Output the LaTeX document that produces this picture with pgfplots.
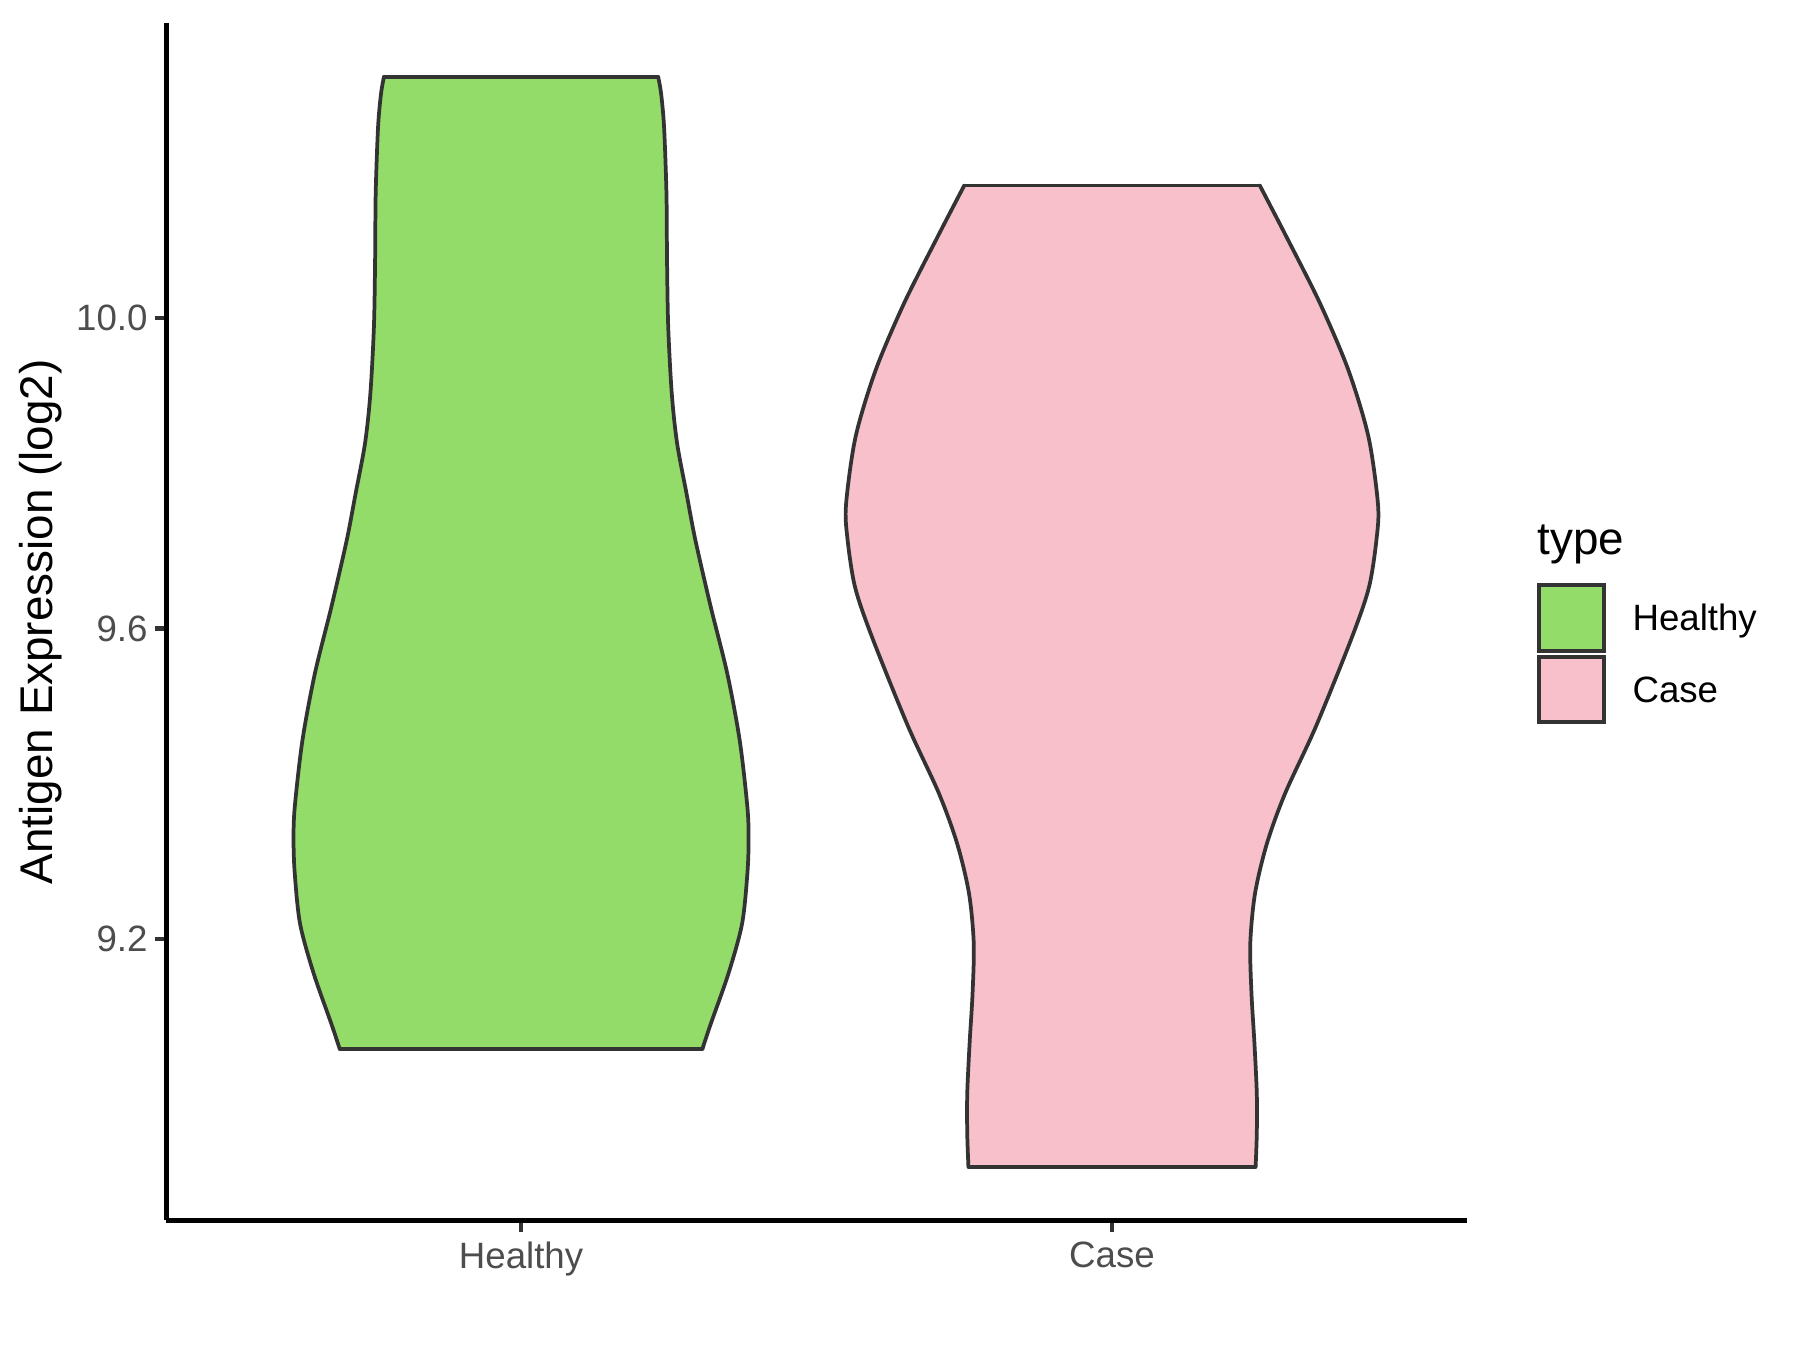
\documentclass[border=0pt]{standalone}
\usepackage{fontspec}
\setmainfont{Liberation Sans}
\usepackage{pgfplots}
\pgfplotsset{compat=1.18}
\definecolor{healthyfill}{HTML}{94DC6A}
\definecolor{casefill}{HTML}{F7C0CB}
\definecolor{outline}{HTML}{333333}
\definecolor{ticktext}{HTML}{4D4D4D}

\begin{document}
\begin{tikzpicture}
\begin{axis}[
  at={(0,0)}, anchor=south west,
  scale only axis,
  width=313.2pt, height=288.4pt,
  xmin=0.4, xmax=2.6, ymin=8.838, ymax=10.380,
  axis x line*=bottom, axis y line*=left,
  axis line style={-, line width=1.07pt, black},
  xtick={1,2}, xticklabels={Healthy,Case},
  ytick={9.2,9.6,10.0}, yticklabels={9.2,9.6,10.0},
  tick align=outside, major tick length=2.75pt,
  tick style={line width=1.07pt, color=outline},
  ticklabel style={font=\fontsize{8.83}{10}\selectfont, text=ticktext},
  xticklabel style={yshift=1.1pt},
  yticklabel style={xshift=1.7pt},
  violin/.style={draw=outline, line width=0.9pt, smooth, tension=0.5, line cap=round},
  edge/.style={draw=outline, line width=0.9pt, sharp plot, line cap=round},
]
% Healthy violin: filled outline, then smooth sides and flat ends
\addplot[fill=healthyfill, draw=none] coordinates {
 (1.232,10.311)(1.237,10.289)(1.242,10.246)(1.246,10.161)(1.247,10.075)
 (1.249,9.989)(1.255,9.903)(1.264,9.839)(1.280,9.774)(1.295,9.714)
 (1.321,9.628)(1.349,9.542)(1.370,9.456)(1.383,9.370)(1.385,9.328)
 (1.383,9.285)(1.374,9.220)(1.351,9.156)(1.321,9.091)(1.307,9.059)
 (0.693,9.059)(0.679,9.091)(0.649,9.156)(0.626,9.220)(0.617,9.285)
 (0.615,9.328)(0.617,9.370)(0.630,9.456)(0.651,9.542)(0.679,9.628)
 (0.705,9.714)(0.720,9.774)(0.736,9.839)(0.745,9.903)(0.751,9.989)
 (0.753,10.075)(0.754,10.161)(0.758,10.246)(0.763,10.289)(0.768,10.311)
} -- cycle;
\addplot[violin] coordinates {
 (1.232,10.311)(1.237,10.289)(1.242,10.246)(1.246,10.161)(1.247,10.075)
 (1.249,9.989)(1.255,9.903)(1.264,9.839)(1.280,9.774)(1.295,9.714)
 (1.321,9.628)(1.349,9.542)(1.370,9.456)(1.383,9.370)(1.385,9.328)
 (1.383,9.285)(1.374,9.220)(1.351,9.156)(1.321,9.091)(1.307,9.059)
};
\addplot[violin] coordinates {
 (0.693,9.059)(0.679,9.091)(0.649,9.156)(0.626,9.220)(0.617,9.285)
 (0.615,9.328)(0.617,9.370)(0.630,9.456)(0.651,9.542)(0.679,9.628)
 (0.705,9.714)(0.720,9.774)(0.736,9.839)(0.745,9.903)(0.751,9.989)
 (0.753,10.075)(0.754,10.161)(0.758,10.246)(0.763,10.289)(0.768,10.311)
};
\addplot[edge] coordinates {(0.768,10.311)(1.232,10.311)};
\addplot[edge] coordinates {(0.693,9.059)(1.307,9.059)};
% Case violin
\addplot[fill=casefill, draw=none] coordinates {
 (2.250,10.171)(2.295,10.105)(2.352,10.019)(2.400,9.933)(2.434,9.847)
 (2.450,9.761)(2.448,9.718)(2.435,9.654)(2.406,9.589)
 (2.345,9.474)(2.293,9.388)(2.262,9.323)(2.242,9.259)(2.234,9.195)
 (2.236,9.130)(2.241,9.066)(2.245,9.001)(2.245,8.950)(2.243,8.907)
 (1.757,8.907)(1.755,8.950)(1.755,9.001)(1.759,9.066)(1.764,9.130)
 (1.766,9.195)(1.758,9.259)(1.738,9.323)(1.707,9.388)(1.655,9.474)
 (1.594,9.589)(1.565,9.654)(1.552,9.718)(1.550,9.761)
 (1.566,9.847)(1.600,9.933)(1.648,10.019)(1.705,10.105)(1.750,10.171)
} -- cycle;
\addplot[violin] coordinates {
 (2.250,10.171)(2.295,10.105)(2.352,10.019)(2.400,9.933)(2.434,9.847)
 (2.450,9.761)(2.448,9.718)(2.435,9.654)(2.406,9.589)
 (2.345,9.474)(2.293,9.388)(2.262,9.323)(2.242,9.259)(2.234,9.195)
 (2.236,9.130)(2.241,9.066)(2.245,9.001)(2.245,8.950)(2.243,8.907)
};
\addplot[violin] coordinates {
 (1.757,8.907)(1.755,8.950)(1.755,9.001)(1.759,9.066)(1.764,9.130)
 (1.766,9.195)(1.758,9.259)(1.738,9.323)(1.707,9.388)(1.655,9.474)
 (1.594,9.589)(1.565,9.654)(1.552,9.718)(1.550,9.761)
 (1.566,9.847)(1.600,9.933)(1.648,10.019)(1.705,10.105)(1.750,10.171)
};
\addplot[edge] coordinates {(1.750,10.171)(2.250,10.171)};
\addplot[edge] coordinates {(1.757,8.907)(2.243,8.907)};
\end{axis}
% pixel frame of the 1800x1350 reference, y pointing down
\begin{scope}[x=0.2409pt, y=-0.2409pt, shift={(-40.11pt,293.97pt)}]
\path[use as bounding box] (0,0) rectangle (1800,1350);
\node[rotate=90, font=\fontsize{11.04}{13}\selectfont] at (41,621.7) {Antigen Expression (log2)};
\node[anchor=base west, inner sep=0pt, font=\fontsize{11.04}{13}\selectfont] at (1536.7,555) {type};
\draw[fill=healthyfill, draw=outline, line width=0.95pt] (1538.7,584.7) rectangle (1604,650.7);
\draw[fill=casefill, draw=outline, line width=0.95pt] (1538.7,657) rectangle (1604,722);
\node[anchor=base west, inner sep=0pt, font=\fontsize{8.83}{10}\selectfont] at (1631.7,630.7) {Healthy};
\node[anchor=base west, inner sep=0pt, font=\fontsize{8.83}{10}\selectfont] at (1631.7,702.3) {Case};
\end{scope}
\end{tikzpicture}
\end{document}
